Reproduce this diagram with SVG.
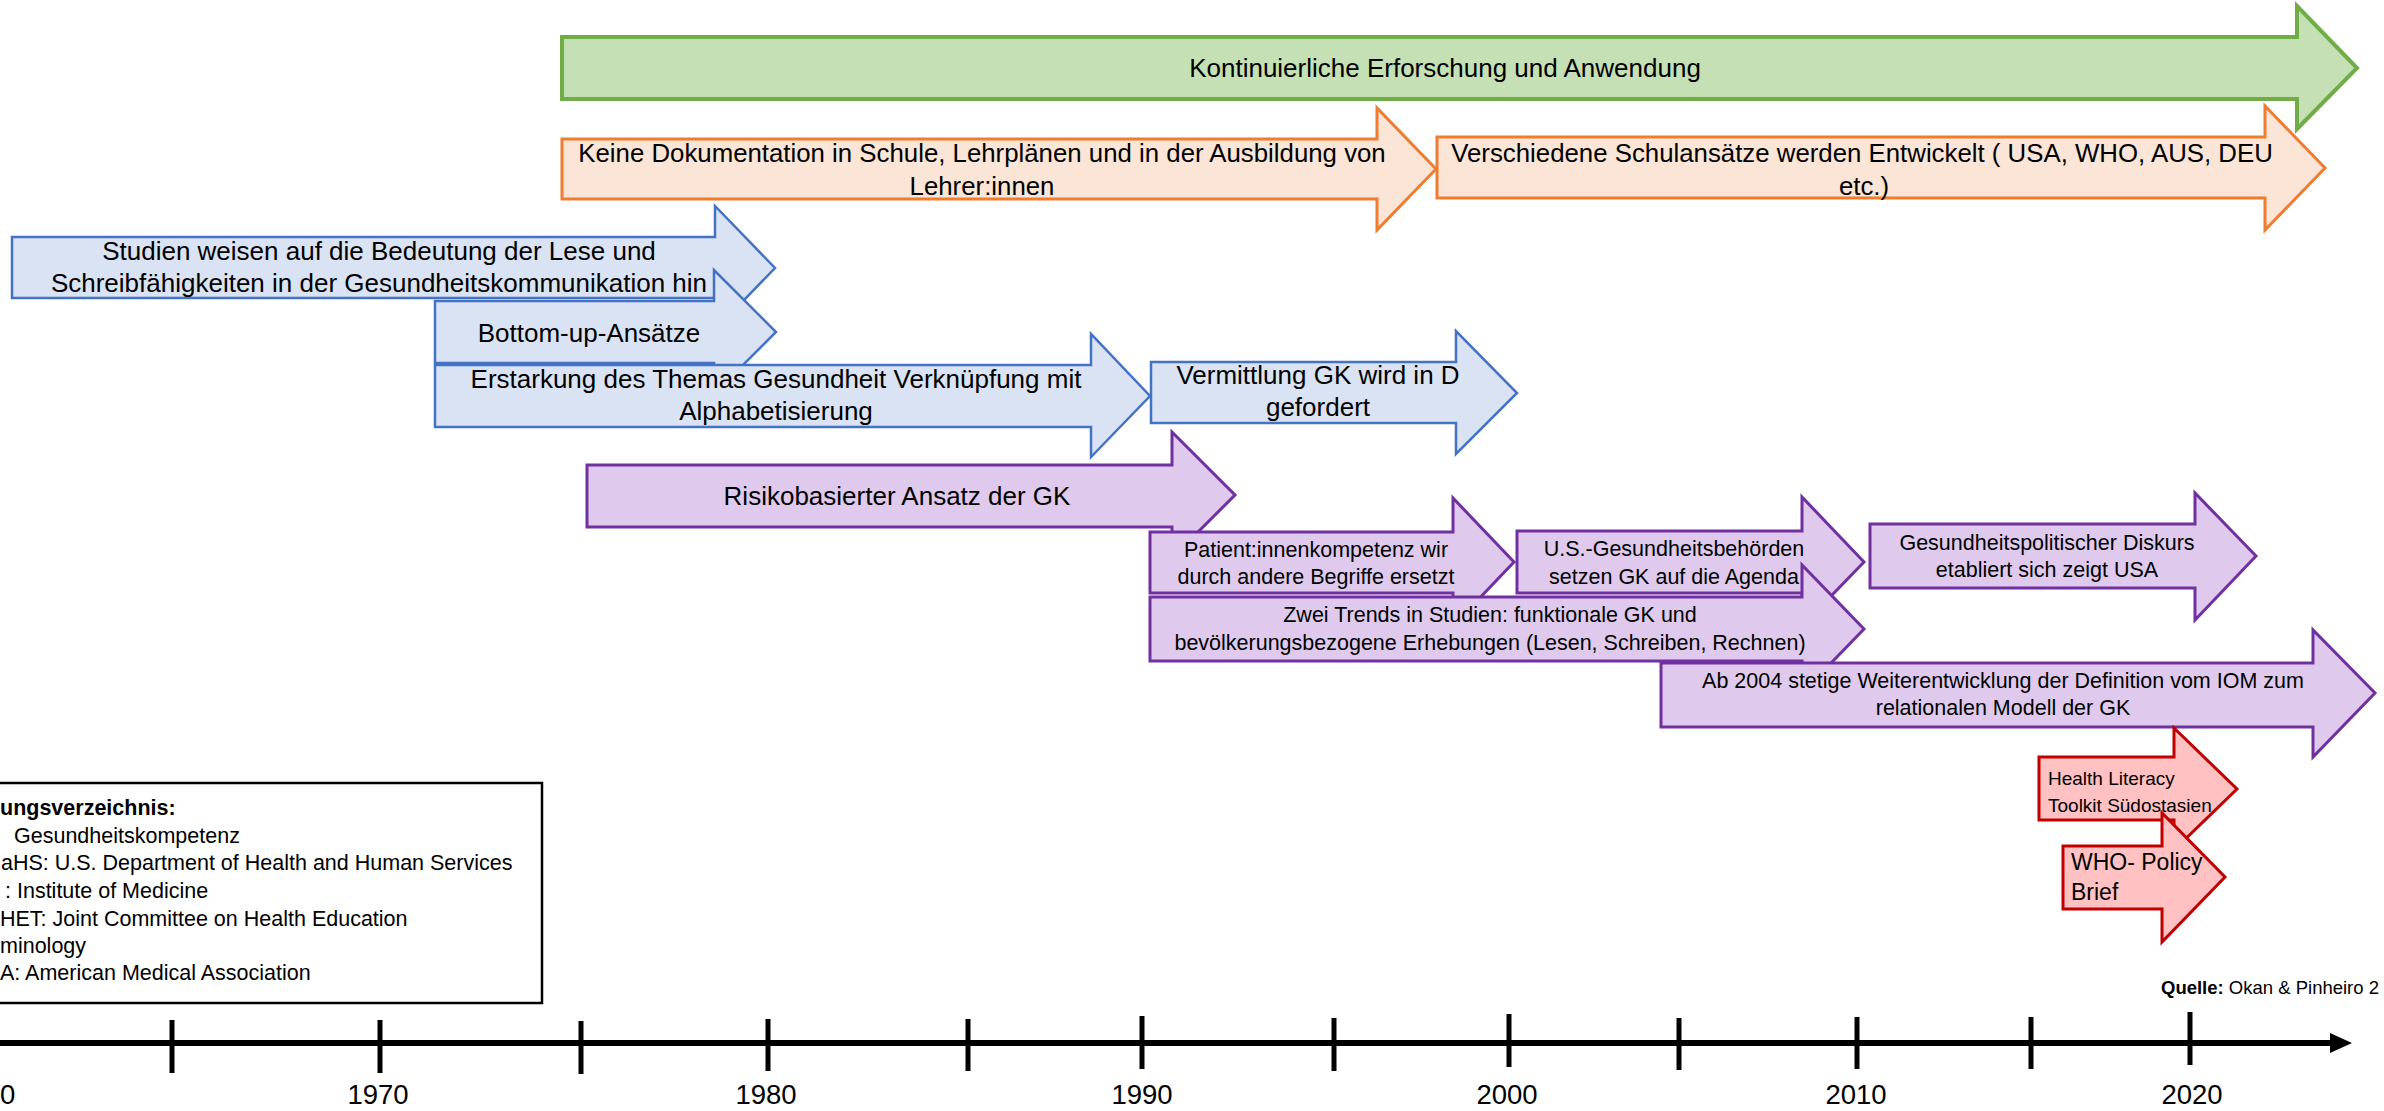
<svg xmlns="http://www.w3.org/2000/svg" width="2384" height="1111" viewBox="0 0 2384 1111">
<style>
text{font-family:"Liberation Sans",Arial,sans-serif;fill:#000}
.big{font-size:26px;text-anchor:middle}
.sm{font-size:21.5px;text-anchor:middle}
.green path{fill:#C5E0B4;stroke:#70AD47;stroke-width:4;stroke-linejoin:miter}
.orange path{fill:#FBE5D6;stroke:#ED7D31;stroke-width:3}
.blue path{fill:#DAE3F3;stroke:#4472C4;stroke-width:2.5}
.purple path{fill:#DFCAEE;stroke:#7030A0;stroke-width:3}
.red path{fill:#FFC1C1;stroke:#C00000;stroke-width:3}
.tick{stroke:#000;stroke-width:5}
.year{font-size:27.5px;text-anchor:middle}
.leg{font-size:21.5px}
</style>
<rect x="0" y="0" width="2384" height="1111" fill="#fff"/>

<g id="n-kontinuierlich" class="green">
<path d="M562,37 H2297 V6 L2357,68 L2297,129 V99 H562 Z"/>
<text class="big" x="1445" y="77" font-size="26.5">Kontinuierliche Erforschung und Anwendung</text>
</g>

<g id="n-keine-doku" class="orange">
<path d="M562,139 H1377 V108 L1436,169 L1377,230 V199 H562 Z"/>
<text class="big" x="982" y="162" style="font-size:25.8px">Keine Dokumentation in Schule, Lehrplänen und in der Ausbildung von</text>
<text class="big" x="982" y="195" style="font-size:25.8px">Lehrer:innen</text>
</g>

<g id="n-schulansaetze" class="orange">
<path d="M1437,137 H2265 V106 L2325,168 L2265,230 V198 H1437 Z"/>
<text class="big" x="1862" y="162" style="font-size:25.8px">Verschiedene Schulansätze werden Entwickelt ( USA, WHO, AUS, DEU</text>
<text class="big" x="1864" y="195" style="font-size:25.8px">etc.)</text>
</g>

<g id="n-studien" class="blue">
<path d="M12,237 H715 V206 L775,268 L715,330 V298 H12 Z"/>
<text class="big" x="379" y="260">Studien weisen auf die Bedeutung der Lese und</text>
<text class="big" x="379" y="292">Schreibfähigkeiten in der Gesundheitskommunikation hin</text>
</g>

<g id="n-bottom-up" class="blue">
<path d="M435,301 H714 V270 L776,332 L714,394 V363 H435 Z"/>
<text class="big" x="589" y="342">Bottom-up-Ansätze</text>
</g>

<g id="n-erstarkung" class="blue">
<path d="M435,365 H1091 V334 L1150,396 L1091,457 V427 H435 Z"/>
<text class="big" x="776" y="388">Erstarkung des Themas Gesundheit Verknüpfung mit</text>
<text class="big" x="776" y="420">Alphabetisierung</text>
</g>

<g id="n-vermittlung" class="blue">
<path d="M1151,362 H1456 V331 L1517,393 L1456,454 V423 H1151 Z"/>
<text class="big" x="1318" y="384">Vermittlung GK wird in D</text>
<text class="big" x="1318" y="416">gefordert</text>
</g>

<g id="n-risiko" class="purple">
<path d="M587,465 H1172 V432 L1235,495 L1172,558 V527 H587 Z"/>
<text class="big" x="897" y="505">Risikobasierter Ansatz der GK</text>
</g>

<g id="n-patient" class="purple">
<path d="M1150,532 H1453 V498 L1514,562 L1453,626 V593 H1150 Z"/>
<text class="sm" x="1316" y="557">Patient:innenkompetenz wir</text>
<text class="sm" x="1316" y="584">durch andere Begriffe ersetzt</text>
</g>

<g id="n-us-behoerden" class="purple">
<path d="M1517,531 H1802 V497 L1864,562 L1802,626 V593 H1517 Z"/>
<text class="sm" x="1674" y="556">U.S.-Gesundheitsbehörden</text>
<text class="sm" x="1674" y="584">setzen GK auf die Agenda</text>
</g>

<g id="n-diskurs" class="purple">
<path d="M1870,524 H2195 V493 L2256,556 L2195,620 V588 H1870 Z"/>
<text class="sm" x="2047" y="550">Gesundheitspolitischer Diskurs</text>
<text class="sm" x="2047" y="577">etabliert sich zeigt USA</text>
</g>

<g id="n-zwei-trends" class="purple">
<path d="M1150,597 H1802 V565 L1864,629 L1802,693 V661 H1150 Z"/>
<text class="sm" x="1490" y="622">Zwei Trends in Studien: funktionale GK und</text>
<text class="sm" x="1490" y="650">bevölkerungsbezogene Erhebungen (Lesen, Schreiben, Rechnen)</text>
</g>

<g id="n-ab-2004" class="purple">
<path d="M1661,663 H2313 V630 L2375,693 L2313,757 V727 H1661 Z"/>
<text class="sm" x="2003" y="688">Ab 2004 stetige Weiterentwicklung der Definition vom IOM zum</text>
<text class="sm" x="2003" y="715">relationalen Modell der GK</text>
</g>

<g id="n-toolkit" class="red">
<path d="M2039,757 H2174 V728 L2237,789 L2174,850 V820 H2039 Z"/>
<text x="2048" y="785" font-size="19">Health Literacy</text>
<text x="2048" y="812" font-size="19">Toolkit Südostasien</text>
</g>

<g id="n-who" class="red">
<path d="M2063,846 H2162 V813 L2225,877 L2162,942 V909 H2063 Z"/>
<text x="2071" y="870" font-size="23">WHO- Policy</text>
<text x="2071" y="900" font-size="23">Brief</text>
</g>

<g id="legend">
<rect x="-10" y="783" width="552" height="220" fill="#fff" stroke="#000" stroke-width="2.5"/>
<text class="leg" x="0" y="815" font-weight="bold">ungsverzeichnis:</text>
<text class="leg" x="14" y="843">Gesundheitskompetenz</text>
<text class="leg" x="1" y="870">aHS: U.S. Department of Health and Human Services</text>
<text class="leg" x="5" y="898">: Institute of Medicine</text>
<text class="leg" x="0" y="926">HET: Joint Committee on Health Education</text>
<text class="leg" x="0" y="953">minology</text>
<text class="leg" x="0" y="980">A: American Medical Association</text>
</g>

<g id="timeline">
<line x1="0" y1="1043" x2="2334" y2="1043" stroke="#000" stroke-width="6"/>
<polygon points="2330,1033 2352,1043 2330,1053" fill="#000"/>
<line class="tick" x1="172" y1="1020" x2="172" y2="1073"/>
<line class="tick" x1="380" y1="1020" x2="380" y2="1073"/>
<line class="tick" x1="581" y1="1021" x2="581" y2="1074"/>
<line class="tick" x1="768" y1="1019" x2="768" y2="1071"/>
<line class="tick" x1="968" y1="1019" x2="968" y2="1071"/>
<line class="tick" x1="1142" y1="1016" x2="1142" y2="1069"/>
<line class="tick" x1="1334" y1="1018" x2="1334" y2="1071"/>
<line class="tick" x1="1509" y1="1014" x2="1509" y2="1067"/>
<line class="tick" x1="1679" y1="1018" x2="1679" y2="1070"/>
<line class="tick" x1="1857" y1="1017" x2="1857" y2="1069"/>
<line class="tick" x1="2031" y1="1017" x2="2031" y2="1069"/>
<line class="tick" x1="2190" y1="1012" x2="2190" y2="1065"/>
<text class="year" x="0" y="1104" style="text-anchor:start">0</text>
<text class="year" x="378" y="1104">1970</text>
<text class="year" x="766" y="1104">1980</text>
<text class="year" x="1142" y="1104">1990</text>
<text class="year" x="1507" y="1104">2000</text>
<text class="year" x="1856" y="1104">2010</text>
<text class="year" x="2192" y="1104">2020</text>
</g>

<g id="source">
<text x="2161" y="994" font-size="18.5"><tspan font-weight="bold">Quelle:</tspan> Okan &amp; Pinheiro 2</text>
</g>
</svg>
